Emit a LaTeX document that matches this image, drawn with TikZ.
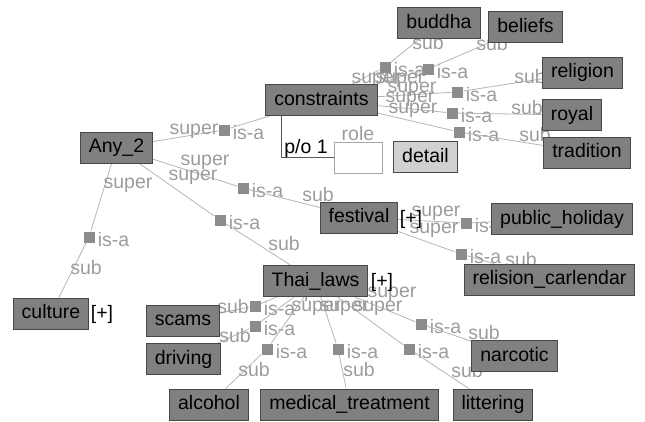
\documentclass[tikz,border=0pt]{standalone}
\usepackage{fontspec}
\setmainfont{Liberation Sans}
\usetikzlibrary{positioning,backgrounds}

\definecolor{boxgray}{HTML}{808080}
\definecolor{edgegray}{HTML}{B5B5B5}
\definecolor{labgray}{HTML}{9C9C9C}

\begin{document}
\begin{tikzpicture}[x=1pt, y=-1pt,
    every node/.style={font=\fontsize{19.5}{20}\selectfont},
    concept/.style={draw=black!72, line width=1pt, fill=boxgray,
      inner xsep=8.5pt, inner ysep=6.5pt, text height=14pt, text depth=4pt},
    isa/.style={fill=black!45, minimum size=11pt, inner sep=0pt,
      label={[lbl, yshift=-3pt, label distance=3pt]right:is-a}},
    lbl/.style={text=labgray, inner sep=0pt},
    link/.style={draw=edgegray, line width=0.8pt},
    plus/.style={inner sep=0pt}]
  \useasboundingbox (0,0) rectangle (645,421);
  % concepts
  \node[concept] (buddha) at (439,23) {buddha};%
  \node[concept] (beliefs) at (525.5,27) {beliefs};%
  \node[concept] (religion) at (582.5,72.5) {religion};%
  \node[concept] (royal) at (572,115) {royal};%
  \node[concept] (tradition) at (587,152.5) {tradition};%
  \node[concept] (constr) at (321.5,100) {constraints};%
  \node[concept] (any) at (116.5,147.5) {Any\_2};%
  \node[concept] (culture) at (51,313.5) {culture};%
  \node[concept] (fest) at (359,217.5) {festival};%
  \node[concept] (pubhol) at (562,219) {public\_holiday};%
  \node[concept] (calendar) at (549.5,279.5) {relision\_carlendar};%
  \node[concept] (thai) at (315.5,281) {Thai\_laws};%
  \node[concept] (scams) at (183,320.5) {scams};%
  \node[concept] (driving) at (183.5,359) {driving};%
  \node[concept] (alcohol) at (209,404.5) {alcohol};%
  \node[concept] (medical) at (349.5,404.5) {medical\_treatment};%
  \node[concept] (litter) at (493,404.5) {littering};%
  \node[concept] (narcotic) at (514.5,356) {narcotic};%
  \node[concept, fill=black!18] (detail) at (425.5,157) {detail};%
  \node[draw=black!35, fill=white, minimum width=48pt, minimum height=31pt,
    inner sep=0pt] (role) at (358,157.5) {};%
  \node[lbl] (rolelab) at (358,134) {role};%
  \node[plus] (culplus) at (102,314) {[+]};%
  \node[plus] (festplus) at (411,219) {[+]};%
  \node[plus] (thaiplus) at (382,282) {[+]};%
  % part-of slot
  \draw[black!65, line width=1.5pt] ([xshift=16pt]constr.south west) |- (role.west);%
  \node[inner sep=0pt] (po) at (306,148) {p/o 1};%
  \begin{scope}[on background layer]
    % is-a squares
    \node[isa] (qcon) at (224,130) {};%
    \node[isa] (qfes) at (243,188) {};%
    \node[isa] (qtha) at (220,220) {};%
    \node[isa] (qcul) at (89,237) {};%
    \node[isa] (qbud) at (385,67) {};%
    \node[isa] (qbel) at (428,69) {};%
    \node[isa] (qrel) at (457,92) {};%
    \node[isa] (qroy) at (452,113) {};%
    \node[isa] (qtra) at (459,132) {};%
    \node[isa] (qpub) at (466,223) {};%
    \node[isa] (qcal) at (461,254) {};%
    \node[isa] (qsca) at (255,306) {};%
    \node[isa] (qdri) at (255,326) {};%
    \node[isa] (qalc) at (267,349) {};%
    \node[isa] (qmed) at (338,349) {};%
    \node[isa] (qlit) at (409,349) {};%
    \node[isa] (qnar) at (421,324) {};%
    \path[link] (any) edge (qcon) (qcon) edge (constr)
      (any) edge (qfes) (qfes) edge (fest)
      (any) edge (qtha) (qtha) edge (thai)
      (any) edge (qcul) (qcul) edge (culture)
      (constr) edge (qbud) (qbud) edge (buddha)
      (constr) edge (qbel) (qbel) edge (beliefs)
      (constr) edge (qrel) (qrel) edge (religion)
      (constr) edge (qroy) (qroy) edge (royal)
      (constr) edge (qtra) (qtra) edge (tradition)
      (fest) edge (qpub) (qpub) edge (pubhol)
      (fest) edge (qcal) (qcal) edge (calendar)
      (thai) edge (qsca) (qsca) edge (scams)
      (thai) edge (qdri) (qdri) edge (driving)
      (thai) edge (qalc) (qalc) edge (alcohol)
      (thai) edge (qmed) (qmed) edge (medical)
      (thai) edge (qlit) (qlit) edge (litter)
      (thai) edge (qnar) (qnar) edge (narcotic);%
    % role names on the relations
    \foreach \x/\y/\t [count=\i] in {194/131/super, 205/162/super,
        193/177/super, 128/185/super, 86/268/sub, 284/244/sub, 318/195/sub,
        376/80/super, 400/80/super, 412/89/super, 410/99/super, 413/110/super,
        428/43/sub, 492/44/sub, 530/77/sub, 527/108/sub, 535/135/sub,
        436/213/super, 434/230/super, 521/260/sub,
        233/307/sub, 235/336/sub, 254/370/sub, 359/370/sub, 467/371/sub,
        484/333/sub, 308/294/super, 316/308/super, 344/308/super,
        378/308/super, 392/294/super}
      \node[lbl] (lab\i) at (\x,\y) {\t};
  \end{scope}
\end{tikzpicture}
\end{document}
